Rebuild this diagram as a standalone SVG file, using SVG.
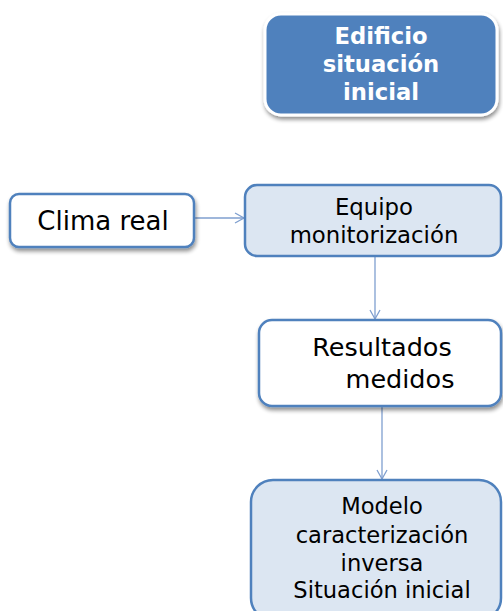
<svg xmlns="http://www.w3.org/2000/svg" width="503" height="611" viewBox="0 0 503 611">
<defs>
<filter id="sh" x="-10%" y="-10%" width="130%" height="140%">
<feGaussianBlur in="SourceAlpha" stdDeviation="2"/>
<feOffset dx="1" dy="3" result="b"/>
<feComponentTransfer><feFuncA type="linear" slope="0.45"/></feComponentTransfer>
<feMerge><feMergeNode/><feMergeNode in="SourceGraphic"/></feMerge>
</filter>
<marker id="ah" markerWidth="12" markerHeight="12" refX="10" refY="6" orient="auto" markerUnits="userSpaceOnUse">
<path d="M1,1 L10,6 L1,11" fill="none" stroke="#7f9fcf" stroke-width="1.3"/>
</marker>
</defs>
<style>
.box{stroke:#4f81bd;stroke-width:2.5}
.w{fill:#ffffff}
.l{fill:#dce6f2}
.t{font-family:"DejaVu Sans",Verdana,sans-serif;fill:#000;text-anchor:middle}
.b{font-weight:bold;fill:#ffffff;font-size:22.7px}
.c{stroke:#7f9fcf;stroke-width:1.3;fill:none}
</style>
<rect width="503" height="611" fill="#ffffff"/>
<g id="connectors">
<line class="c" x1="195" y1="218" x2="244" y2="218" marker-end="url(#ah)"/>
<line class="c" x1="375" y1="257" x2="375" y2="319" marker-end="url(#ah)"/>
<line class="c" x1="382" y1="407" x2="382" y2="479" marker-end="url(#ah)"/>
</g>
<g id="edificio">
<rect x="265" y="14" width="232" height="101" rx="16" fill="#4f81bd" stroke="#ffffff" stroke-width="3" filter="url(#sh)"/>
<text class="t b" x="381" y="44">Edificio</text>
<text class="t b" x="381" y="72">situación</text>
<text class="t b" x="381" y="100">inicial</text>
</g>
<g id="clima">
<rect class="box w" x="10" y="194" width="184" height="53" rx="9" filter="url(#sh)"/>
<text class="t" x="103" y="230" font-size="26">Clima real</text>
</g>
<g id="equipo">
<rect class="box l" x="245" y="185" width="256" height="71" rx="12"/>
<text class="t" x="374" y="215" font-size="22.8">Equipo</text>
<text class="t" x="374" y="243" font-size="22.8">monitorización</text>
</g>
<g id="resultados">
<rect class="box w" x="259" y="320" width="242" height="86" rx="13" filter="url(#sh)"/>
<text class="t" x="382" y="356" font-size="25.5">Resultados</text>
<text class="t" x="400" y="388" font-size="25.5">medidos</text>
</g>
<g id="modelo">
<rect class="box l" x="251" y="480" width="250" height="140" rx="22"/>
<text class="t" x="382" y="514" font-size="22.6">Modelo</text>
<text class="t" x="382" y="543" font-size="22.6">caracterización</text>
<text class="t" x="382" y="571" font-size="22.6">inversa</text>
<text class="t" x="382" y="598" font-size="22.6">Situación inicial</text>
</g>
</svg>
